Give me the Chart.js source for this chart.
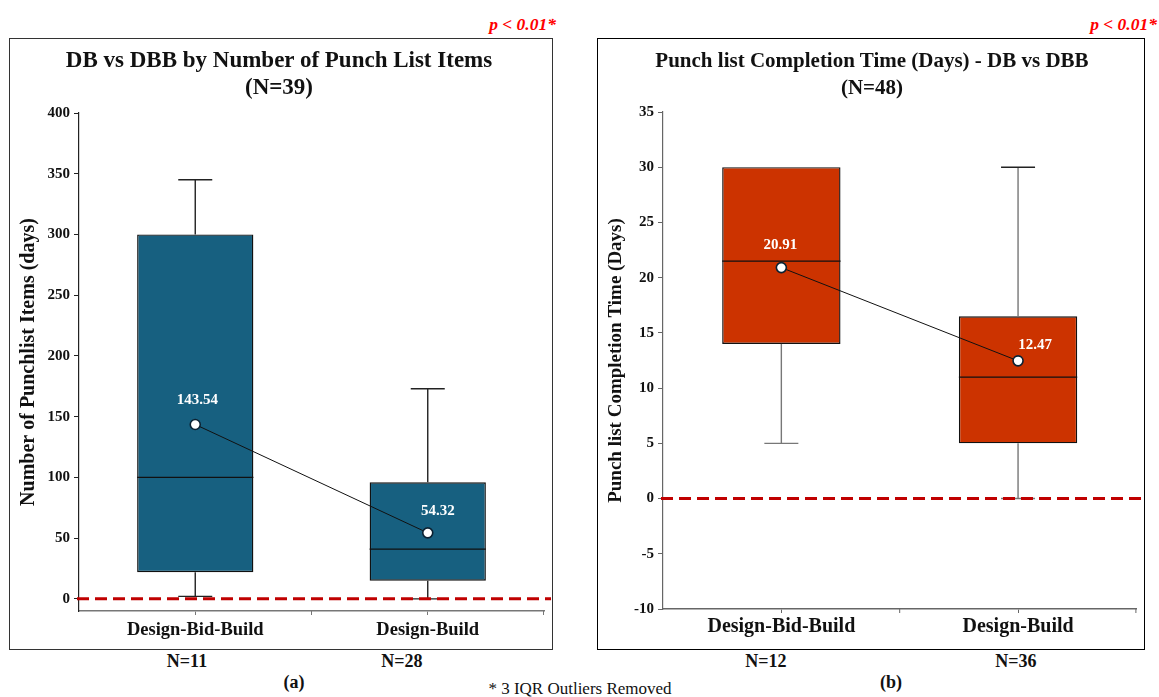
<!DOCTYPE html>
<html>
<head>
<meta charset="utf-8">
<script src="https://cdn.jsdelivr.net/npm/chart.js@4.4.1/dist/chart.umd.min.js"></script>
<style>
  body { margin: 0; background: #fff; font-family: "Liberation Serif", "Times New Roman", serif; }
  #page { position: relative; width: 1159px; height: 697px; overflow: hidden; }
  .frame { position: absolute; box-sizing: border-box; }
  canvas { position: absolute; }
  .t { position: absolute; white-space: nowrap; transform: translate(-50%, -50%); font-weight: bold; color: #111; }
  .p { position: absolute; white-space: nowrap; transform: translate(-100%, -50%); font-weight: bold; font-style: italic; color: #ff0000; font-size: 17.5px; }
</style>
</head>
<body>
<div id="page">
  <div class="frame" style="left:9px;top:38px;width:544px;height:612px;border:1px solid #333;"></div>
  <div class="frame" style="left:597px;top:38px;width:548px;height:612px;border:1.5px solid #000;"></div>
  <canvas id="chartA" width="541" height="609" style="left:10px;top:39px;"></canvas>
  <canvas id="chartB" width="545" height="609" style="left:598px;top:39px;"></canvas>

  <div class="p" style="left:556px;top:24px;">p &lt; 0.01*</div>
  <div class="p" style="left:1157px;top:24px;">p &lt; 0.01*</div>

  <div class="t" style="left:279px;top:60px;font-size:23px;">DB vs DBB by Number of Punch List Items</div>
  <div class="t" style="left:279px;top:87px;font-size:23px;">(N=39)</div>
  <div class="t" style="left:872px;top:60px;font-size:21px;">Punch list Completion Time (Days) - DB vs DBB</div>
  <div class="t" style="left:872px;top:87px;font-size:21px;">(N=48)</div>

  <div id="nLabels"></div>
  <div class="t" style="left:294px;top:682px;font-size:18px;">(a)</div>
  <div class="t" style="left:891px;top:682px;font-size:18px;">(b)</div>
  <div class="t" style="left:580px;top:689px;font-size:17px;font-weight:normal;">* 3 IQR Outliers Removed</div>
</div>

<script>
const categories = ['Design-Bid-Build', 'Design-Build'];

// (a) number of punch list items
const itemsMin = [2, 0];
const itemsQ1 = [22, 15];
const itemsMedian = [100, 41];
const itemsQ3 = [300, 96];
const itemsMax = [345, 173];
const itemsMean = [143.54, 54.32];
const itemsN = ['N=11', 'N=28'];
const itemsTicks = [0, 50, 100, 150, 200, 250, 300, 350, 400];

// (b) punch list completion time (days)
const daysMin = [5, 0];
const daysQ1 = [14, 5];
const daysMedian = [21.5, 11];
const daysQ3 = [30, 16.5];
const daysMax = [30, 30];
const daysMean = [20.91, 12.47];
const daysN = ['N=12', 'N=36'];
const daysTicks = [-10, -5, 0, 5, 10, 15, 20, 25, 30, 35];

const serif = 'Liberation Serif';

// whiskers + medians, drawn right after the boxes
const boxParts = {
  id: 'boxParts',
  afterDatasetDraw(chart, args, opts) {
    if (args.index !== 0) return;
    const { ctx, scales: { y } } = chart;
    const bars = chart.getDatasetMeta(0).data;
    ctx.save();
    bars.forEach((bar, i) => {
      const cx = bar.x;
      const half = bar.width / 2;
      const q1 = y.getPixelForValue(opts.q1[i]);
      const q3 = y.getPixelForValue(opts.q3[i]);
      const lo = y.getPixelForValue(opts.min[i]);
      const hi = y.getPixelForValue(opts.max[i]);
      const med = y.getPixelForValue(opts.median[i]);
      ctx.strokeStyle = opts.whisker;
      ctx.lineWidth = 1.4;
      ctx.beginPath();
      ctx.moveTo(cx, q3); ctx.lineTo(cx, hi);
      ctx.moveTo(cx, q1); ctx.lineTo(cx, lo);
      ctx.stroke();
      if (opts.max[i] > opts.q3[i]) {
        ctx.beginPath();
        ctx.strokeStyle = opts.capTop;
        ctx.moveTo(cx - 17, hi); ctx.lineTo(cx + 17, hi);
        ctx.stroke();
      }
      ctx.beginPath();
      ctx.strokeStyle = opts.whisker;
      ctx.moveTo(cx - 17, lo); ctx.lineTo(cx + 17, lo);
      ctx.stroke();
      ctx.strokeStyle = '#111';
      ctx.lineWidth = 1.3;
      ctx.beginPath();
      ctx.moveTo(cx - half, med); ctx.lineTo(cx + half, med);
      ctx.stroke();
    });
    ctx.restore();
  },
  afterDatasetsDraw(chart, args, opts) {
    const { ctx, chartArea, scales: { x, y } } = chart;
    ctx.save();
    // zero reference line
    const y0 = y.getPixelForValue(0);
    ctx.strokeStyle = '#c00000';
    ctx.lineWidth = 3;
    ctx.setLineDash([12, 6]);
    ctx.beginPath();
    ctx.moveTo(chartArea.left - 2, y0);
    ctx.lineTo(chart.width, y0);
    ctx.stroke();
    ctx.setLineDash([]);
    // minor ticks between categories
    ctx.strokeStyle = opts.axis;
    ctx.lineWidth = 1;
    [x.getPixelForValue(0.5), chartArea.right - 0.5].forEach(px => {
      ctx.beginPath();
      ctx.moveTo(px, chartArea.bottom);
      ctx.lineTo(px, chartArea.bottom + 4);
      ctx.stroke();
    });
    // mean labels
    const pts = chart.getDatasetMeta(1).data;
    ctx.fillStyle = '#fff';
    ctx.font = 'bold 15px "' + serif + '"';
    ctx.textAlign = 'center';
    ctx.textBaseline = 'middle';
    pts.forEach((p, i) => {
      const off = opts.labelOffset[i];
      ctx.fillText(opts.mean[i].toFixed(2), p.x + off[0], p.y + off[1]);
    });
    ctx.restore();
  }
};

function boxChart(id, d) {
  return new Chart(document.getElementById(id), {
    type: 'bar',
    data: {
      labels: categories,
      datasets: [
        {
          type: 'bar',
          data: d.q1.map((v, i) => [v, d.q3[i]]),
          order: 1,
          backgroundColor: d.color,
          borderColor: '#111',
          borderWidth: 1.4,
          borderSkipped: false,
          barPercentage: 0.5,
          categoryPercentage: 1
        },
        {
          type: 'line',
          data: d.mean,
          order: 0,
          borderColor: '#111',
          borderWidth: 1,
          pointRadius: 5,
          pointBackgroundColor: '#fff',
          pointBorderColor: '#0b2233',
          pointBorderWidth: 1.6
        }
      ]
    },
    options: {
      responsive: false,
      animation: false,
      devicePixelRatio: 1,
      layout: { padding: { top: d.padTop, right: d.padRight, left: 0, bottom: 0 } },
      plugins: {
        legend: { display: false },
        tooltip: { enabled: false },
        boxParts: {
          q1: d.q1, q3: d.q3, min: d.min, max: d.max, median: d.median, mean: d.mean,
          whisker: d.whisker, capTop: d.capTop, axis: d.xAxis, labelOffset: d.labelOffset
        }
      },
      scales: {
        x: {
          offset: true,
          afterFit: s => { s.height = d.xHeight; },
          grid: { display: true, drawOnChartArea: false, offset: false, tickLength: 4, color: d.xAxis },
          border: { color: d.xAxis, width: 1.6 },
          ticks: { color: '#111', padding: d.xPad, font: { family: serif, size: d.xFont, weight: 'bold' } }
        },
        y: {
          min: d.ticks[0] < 0 ? d.ticks[0] : -10,
          max: d.ticks[d.ticks.length - 1],
          afterBuildTicks: s => { s.ticks = d.ticks.map(v => ({ value: v })); },
          afterFit: s => { s.width = d.yWidth; },
          grid: { display: true, drawOnChartArea: false, tickLength: 5, color: d.yAxis },
          border: { color: d.yAxis, width: 1.2 },
          ticks: { color: '#111', padding: 4, font: { family: serif, size: 15, weight: 'bold' } },
          title: {
            display: true, text: d.yTitle, color: '#111',
            padding: { top: d.titlePad, bottom: 0 },
            font: { family: serif, size: d.yTitleFont, weight: 'bold' }
          }
        }
      }
    },
    plugins: [boxParts]
  });
}

boxChart('chartA', {
  q1: itemsQ1, q3: itemsQ3, min: itemsMin, max: itemsMax, median: itemsMedian, mean: itemsMean,
  ticks: itemsTicks, color: '#176080', whisker: '#222', capTop: '#222',
  xAxis: '#777', yAxis: '#222',
  yTitle: 'Number of Punchlist Items (days)', yTitleFont: 20, titlePad: 7,
  padTop: 74, padRight: 7, yWidth: 69, xHeight: 37, xPad: 4, xFont: 18.5,
  labelOffset: [[2, -24], [10, -22]]
});

boxChart('chartB', {
  q1: daysQ1, q3: daysQ3, min: daysMin, max: daysMax, median: daysMedian, mean: daysMean,
  ticks: daysTicks, color: '#cc3300', whisker: '#777', capTop: '#222',
  xAxis: '#666', yAxis: '#666',
  yTitle: 'Punch list Completion Time (Days)', yTitleFont: 19, titlePad: 7,
  padTop: 73, padRight: 6, yWidth: 65, xHeight: 39, xPad: 2, xFont: 20,
  labelOffset: [[-1, -22], [17, -16]]
});

// group sizes under each panel
const nPos = [[187, itemsN[0]], [402, itemsN[1]], [766, daysN[0]], [1016, daysN[1]]];
const nBox = document.getElementById('nLabels');
nPos.forEach(([x, txt]) => {
  const el = document.createElement('div');
  el.className = 't';
  el.style.cssText = 'left:' + x + 'px;top:661px;font-size:18px;';
  el.textContent = txt;
  nBox.appendChild(el);
});
</script>
</body>
</html>
